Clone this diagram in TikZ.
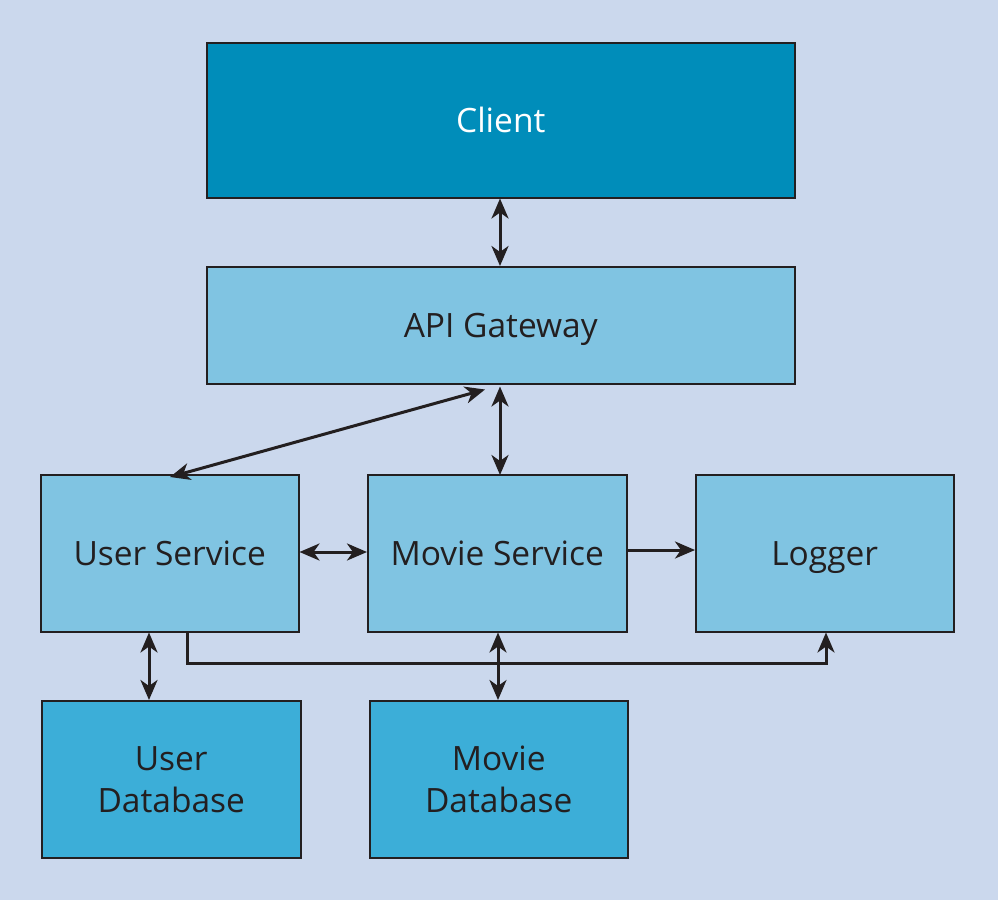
\documentclass[tikz,border=0pt]{standalone}
\usepackage{fontspec}
\setmainfont{Open Sans}
\usetikzlibrary{arrows.meta}
\definecolor{bg}{HTML}{CBD8ED}
\definecolor{dark}{HTML}{008DBA}
\definecolor{light}{HTML}{80C4E2}
\definecolor{mid}{HTML}{3CAED8}
\definecolor{ink}{HTML}{231F20}
\tikzset{
  box/.style={draw=ink, line width=1.5pt, anchor=north west, inner sep=0pt,
    font=\fontsize{33.5}{42}\selectfont, text=ink, align=center},
  oneline/.style={box, text depth=0pt},
  conn/.style={draw=ink, line width=3pt,
    >={Stealth[length=20pt,width=17pt,inset=6pt]}},
  link/.style={conn, <->},
  onelink/.style={conn, ->}
}
\begin{document}
\begin{tikzpicture}[x=1pt,y=-1pt]
\fill[bg] (0,0) rectangle (998,900);
\useasboundingbox (0,0) rectangle (998,900);

\node[oneline, fill=dark, text=white, minimum width=588pt, minimum height=155pt] (client) at (206,42) {Client};
\node[oneline, fill=light, minimum width=588pt, minimum height=117pt] (api) at (206,266) {API Gateway};
\node[oneline, fill=light, minimum width=258pt, minimum height=157pt] (user) at (40,474) {User Service};
\node[oneline, fill=light, minimum width=259pt, minimum height=157pt] (movie) at (367,474) {Movie Service};
\node[oneline, fill=light, minimum width=258pt, minimum height=157pt] (logger) at (695,474) {Logger};
\node[box, fill=mid, minimum width=259pt, minimum height=157pt] (userdb) at (41,700) {User\\Database};
\node[box, fill=mid, minimum width=258pt, minimum height=157pt] (moviedb) at (369,700) {Movie\\Database};

% Client <-> gateway
\draw[link] (client.south -| 500,0) -- (api.north -| 500,0);
% gateway <-> services
\draw[link] ([xshift=-15pt,yshift=-5pt]api.south -| 500,0) -- ([xshift=130pt,yshift=-3pt]user.north west);
\draw[link] ([yshift=-2pt]api.south -| 500,0) -- ([yshift=-1pt]movie.north -| 500,0);
% services side by side
\draw[link] (user.east |- 0,552) -- (movie.west |- 0,552);
\draw[onelink] (movie.east |- 0,550) -- (logger.west |- 0,550);
% services <-> databases
\draw[link] (user.south -| 149,0) -- (userdb.north -| 149,0);
\draw[link] (movie.south -| 498,0) -- (moviedb.north -| 498,0);
% user service to logger
\draw[onelink] (user.south -| 187,0) -- (187,663) -- (826,663) -- (logger.south -| 826,0);
\end{tikzpicture}
\end{document}
